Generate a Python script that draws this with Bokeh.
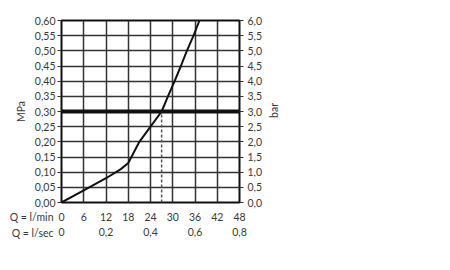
import math
from bokeh.plotting import figure
from bokeh.models import Range1d, LinearAxis, FixedTicker, Label, Span, CustomJSTickFormatter
from bokeh.embed import file_html
from bokeh.resources import INLINE

# Data
flow_lmin = [0, 6, 12, 16, 18, 21, 24, 27, 28.7, 30.5, 32.2, 33.8, 35.6, 37.2]
pressure_mpa = [0, 0.04, 0.08, 0.11, 0.13, 0.20, 0.25, 0.30, 0.35, 0.40, 0.45, 0.50, 0.55, 0.60]
flow_ticks = [0, 6, 12, 18, 24, 30, 36, 42, 48]
flow_lsec_ticks = [0, 0.2, 0.4, 0.6, 0.8]
mpa_ticks = [0.0, 0.05, 0.1, 0.15, 0.2, 0.25, 0.3, 0.35, 0.4, 0.45, 0.5, 0.55, 0.6]
bar_ticks = [0.0, 0.5, 1.0, 1.5, 2.0, 2.5, 3.0, 3.5, 4.0, 4.5, 5.0, 5.5, 6.0]
operating_flow = 27
operating_pressure = 0.30

FONT = "Lato"
TXT = "#3a3a3a"
FS = "10.5px"

p = figure(width=450, height=270, output_backend="svg", toolbar_location=None,
           x_range=Range1d(0, 48), y_range=Range1d(0, 0.6),
           x_axis_location=None, y_axis_location=None,
           min_border_left=61, min_border_right=211, min_border_top=20, min_border_bottom=68)
p.extra_y_ranges = {"bar": Range1d(0, 6)}
p.extra_x_ranges = {"lsec": Range1d(0, 0.8)}
p.outline_line_color = "#111111"
p.outline_line_width = 2
p.background_fill_color = "white"
p.border_fill_color = "white"

p.xgrid.ticker = FixedTicker(ticks=flow_ticks)
p.ygrid.ticker = FixedTicker(ticks=mpa_ticks)
for g in (p.xgrid, p.ygrid):
    g.grid_line_color = "#333333"
    g.grid_line_width = 1.5
    g.grid_line_alpha = 1

def style(ax, tick_out):
    ax.axis_line_color = None
    ax.major_tick_out = tick_out
    ax.major_tick_in = 0
    ax.minor_tick_out = 0
    ax.minor_tick_in = 0
    ax.major_tick_line_color = "#333333"
    ax.major_label_text_font = FONT
    ax.major_label_text_font_size = FS
    ax.major_label_text_color = TXT
    ax.axis_label_text_font = FONT
    ax.axis_label_text_font_size = FS
    ax.axis_label_text_color = TXT
    ax.axis_label_text_font_style = "normal"

left = LinearAxis(ticker=FixedTicker(ticks=mpa_ticks), axis_label="MPa",
                  formatter=CustomJSTickFormatter(code="return tick.toFixed(2).replace('.', ',');"))
style(left, 4)
left.major_label_standoff = 2
left.axis_label_standoff = 5
p.add_layout(left, "left")

right = LinearAxis(y_range_name="bar", ticker=FixedTicker(ticks=bar_ticks),
                   formatter=CustomJSTickFormatter(code="return tick.toFixed(1).replace('.', ',');"))
style(right, 4)
right.major_label_standoff = 4
p.add_layout(right, "right")

bottom1 = LinearAxis(ticker=FixedTicker(ticks=flow_ticks),
                     formatter=CustomJSTickFormatter(code="return tick.toFixed(0);"))
style(bottom1, 0)
bottom1.major_label_standoff = 10
p.add_layout(bottom1, "below")

bottom2 = LinearAxis(x_range_name="lsec", ticker=FixedTicker(ticks=flow_lsec_ticks),
                     formatter=CustomJSTickFormatter(code="return tick == 0 ? '0' : tick.toFixed(1).replace('.', ',');"))
style(bottom2, 0)
bottom2.major_label_standoff = 4
p.add_layout(bottom2, "below")

# curve
p.line(flow_lmin, pressure_mpa, line_color="#111111", line_width=2)
# operating point marks
p.segment(x0=[operating_flow], y0=[0], x1=[operating_flow], y1=[operating_pressure],
          line_color="#555555", line_width=1.5, line_dash="3 2")
p.add_layout(Span(location=operating_pressure, dimension="width", line_color="#111111", line_width=4))

def lab(text, x, y, side, angle=0, align="left"):
    p.add_layout(Label(x=x, y=y, x_units="screen", y_units="screen", text=text, angle=angle,
                       text_font=FONT, text_font_size=FS, text_color=TXT,
                       text_align=align, text_baseline="middle"), side)

lab("Q = l/min", -8, 34, "below", align="right")
lab("Q = l/sec", -8, 30, "below", align="right")
lab("bar", 8, 92, "right", angle=math.pi / 2, align="center")

open("out.html", "w").write(file_html(p, INLINE))
